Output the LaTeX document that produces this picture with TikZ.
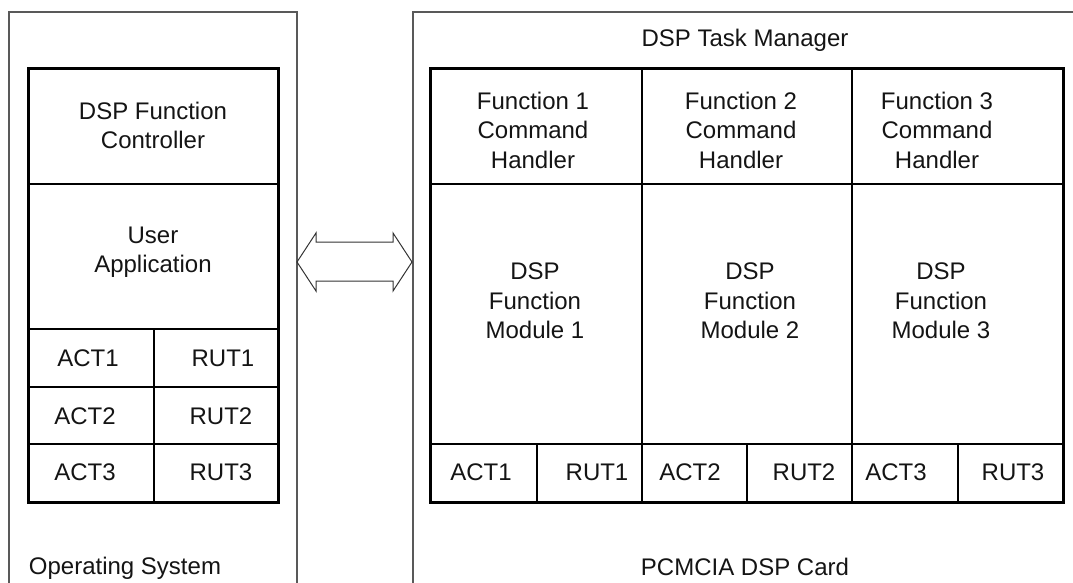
\documentclass[tikz,border=0pt]{standalone}
\usepackage{fontspec}
\setmainfont{Liberation Sans}
\begin{document}
\begin{tikzpicture}[x=1pt,y=-1pt,
  outerline/.style={draw=black!65,line width=1.1pt},
  innerline/.style={draw=black,line width=3pt,line cap=rect},
  cellline/.style={draw=black,line width=2.8pt},
  arrowline/.style={draw=black!80,line width=1pt,line join=miter},
  txt/.style={inner sep=0pt,align=center,text=black!92,font=\fontsize{24}{29.5}\selectfont}]
\useasboundingbox (0,0) rectangle (1073,583);
\begin{scope}
\clip (0,0) rectangle (1073,583);
% outer boxes
\draw[outerline] (9,12) rectangle (297,610);
\draw[outerline] (413,12) rectangle (1090,610);
\end{scope}
% left inner box
\draw[cellline] (28,184) -- (278,184);
\draw[cellline] (28,329) -- (278,329);
\draw[cellline] (28,387) -- (278,387);
\draw[cellline] (28,444) -- (278,444);
\draw[cellline] (154,329) -- (154,502);
\draw[innerline] (28,69) rectangle (278,502);
% right inner box
\draw[cellline] (430,184) -- (1063,184);
\draw[cellline] (430,444) -- (1063,444);
\draw[cellline] (642,69) -- (642,502);
\draw[cellline] (852,69) -- (852,502);
\draw[cellline] (537,444) -- (537,502);
\draw[cellline] (747,444) -- (747,502);
\draw[cellline] (958,444) -- (958,502);
\draw[innerline] (430,69) rectangle (1063,502);
% double arrow
\coordinate (tipL) at (297,262);
\coordinate (tipR) at (412,262);
\draw[arrowline] (tipL) -- (316,233) -- (316,242) -- (393,242) -- (393,233) -- (tipR)
  -- (393,291) -- (393,281) -- (316,281) -- (316,291) -- cycle;
% texts left
\node[txt] (ctrl) at (153,125.5) {DSP Function\\Controller};
\node[txt] (app) at (153,252) {User\\Application};
\node[txt] (lact1) at (88,358) {ACT1};
\node[txt] (lrut1) at (223,358) {RUT1};
\node[txt] (lact2) at (85,416) {ACT2};
\node[txt] (lrut2) at (221,416) {RUT2};
\node[txt] (lact3) at (85,472) {ACT3};
\node[txt] (lrut3) at (221,472) {RUT3};
\node[txt] (os) at (125,568) {Operating System};
% texts right
\node[txt] (tm) at (745,40) {DSP Task Manager};
\node[txt] (ch1) at (533,130) {Function 1\\Command\\Handler};
\node[txt] (ch2) at (741,130) {Function 2\\Command\\Handler};
\node[txt] (ch3) at (937,130) {Function 3\\Command\\Handler};
\node[txt] (fm1) at (535,301) {DSP\\Function\\Module 1};
\node[txt] (fm2) at (750,301) {DSP\\Function\\Module 2};
\node[txt] (fm3) at (941,301) {DSP\\Function\\Module 3};
\node[txt] (ract1) at (481,472) {ACT1};
\node[txt] (rrut1) at (597,472) {RUT1};
\node[txt] (ract2) at (690,472) {ACT2};
\node[txt] (rrut2) at (804,472) {RUT2};
\node[txt] (ract3) at (896,472) {ACT3};
\node[txt] (rrut3) at (1013,472) {RUT3};
\node[txt] (card) at (745,567) {PCMCIA DSP Card};
\end{tikzpicture}
\end{document}
